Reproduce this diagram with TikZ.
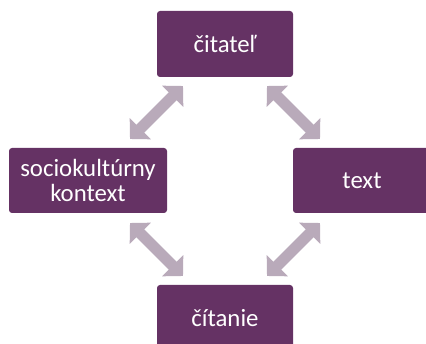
\documentclass[tikz,border=0pt]{standalone}
\usepackage{fontspec}
\setmainfont{Carlito}
\usetikzlibrary{arrows.meta,calc}
\definecolor{boxpurple}{RGB}{101,50,100}
\definecolor{arrowgray}{RGB}{185,170,186}
\tikzset{
  box/.style={fill=boxpurple, rounded corners=3pt, text=white, align=center,
    font=\fontsize{24.8}{25}\selectfont, inner sep=0pt},
  dbl/.style={draw=arrowgray, line width=11pt, line cap=butt,
    {Triangle[length=14.5pt,width=29pt]}-{Triangle[length=14.5pt,width=29pt]}}
}
\begin{document}
\begin{tikzpicture}[x=1pt,y=-1pt]
\useasboundingbox (0,0) rectangle (426,344);
\node[box, minimum width=136pt, minimum height=66pt] (top) at (225,44) {čitateľ};
\node[box, minimum width=158pt, minimum height=65pt] (left) at (88,180.5) {sociokultúrny\\kontext};
\node[box, minimum width=138pt, minimum height=65pt] (right) at (362,180.5) {text};
\node[box, minimum width=136pt, minimum height=66pt] (bottom) at (225,318) {čítanie};
\coordinate (tl1) at (183,86);
\coordinate (tl2) at (130,139);
\coordinate (tr1) at (267,86);
\coordinate (tr2) at (320,139);
\coordinate (bl1) at (130,223);
\coordinate (bl2) at (183,276);
\coordinate (br1) at (320,223);
\coordinate (br2) at (267,276);
\draw[dbl] (tl2) -- (tl1);
\draw[dbl] (tr1) -- (tr2);
\draw[dbl] (bl1) -- (bl2);
\draw[dbl] (br1) -- (br2);
\end{tikzpicture}
\end{document}
